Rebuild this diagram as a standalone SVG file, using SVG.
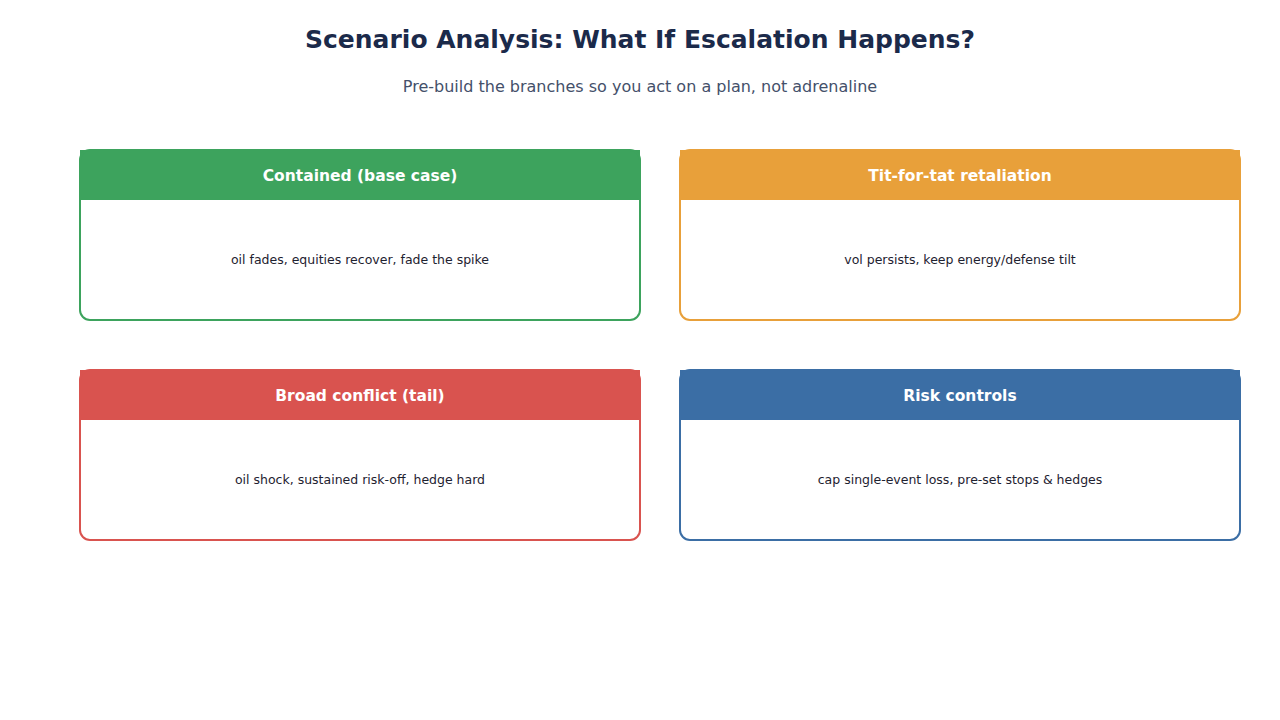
<svg xmlns="http://www.w3.org/2000/svg" width="1280" height="720" viewBox="0 0 1280 720">
<style>
.title{font-family:"DejaVu Sans",sans-serif;font-weight:bold;font-size:25px;fill:#1b2a4a;text-anchor:middle}
.sub{font-family:"DejaVu Sans",sans-serif;font-size:16px;fill:#44506a;text-anchor:middle}
.hd{font-family:"DejaVu Sans",sans-serif;font-weight:bold;font-size:15.5px;fill:#fff;text-anchor:middle;dominant-baseline:central}
.bd{font-family:"DejaVu Sans",sans-serif;font-size:12.5px;fill:#1e2230;text-anchor:middle;dominant-baseline:central}
.card{fill:none;stroke-width:2}
</style>
<rect width="1280" height="720" fill="#fff"/>
<text class="title" x="640" y="48">Scenario Analysis: What If Escalation Happens?</text>
<text class="sub" x="640" y="92">Pre-build the branches so you act on a plan, not adrenaline</text>
<g id="contained">
<rect x="80" y="150" width="560" height="50" fill="#3da35d"/>
<rect class="card" x="80" y="150" width="560" height="170" rx="10" stroke="#3da35d"/>
<text class="hd" x="360" y="175.5">Contained (base case)</text>
<text class="bd" x="360" y="259.5">oil fades, equities recover, fade the spike</text>
</g>
<g id="titfortat">
<rect x="680" y="150" width="560" height="50" fill="#e8a03a"/>
<rect class="card" x="680" y="150" width="560" height="170" rx="10" stroke="#e8a03a"/>
<text class="hd" x="960" y="175.5">Tit-for-tat retaliation</text>
<text class="bd" x="960" y="259.5">vol persists, keep energy/defense tilt</text>
</g>
<g id="broad">
<rect x="80" y="370" width="560" height="50" fill="#d9534f"/>
<rect class="card" x="80" y="370" width="560" height="170" rx="10" stroke="#d9534f"/>
<text class="hd" x="360" y="395.5">Broad conflict (tail)</text>
<text class="bd" x="360" y="479.5">oil shock, sustained risk-off, hedge hard</text>
</g>
<g id="risk">
<rect x="680" y="370" width="560" height="50" fill="#3b6ea5"/>
<rect class="card" x="680" y="370" width="560" height="170" rx="10" stroke="#3b6ea5"/>
<text class="hd" x="960" y="395.5">Risk controls</text>
<text class="bd" x="960" y="479.5">cap single-event loss, pre-set stops &amp; hedges</text>
</g>
<g id="connectors"/>
</svg>
